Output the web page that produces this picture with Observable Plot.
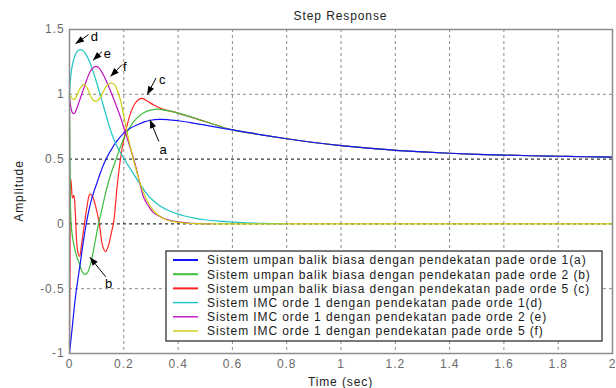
<!DOCTYPE html>
<html><head><meta charset="utf-8">
<script src="https://cdn.jsdelivr.net/npm/d3@7"></script>
<script src="https://cdn.jsdelivr.net/npm/@observablehq/plot@0.6"></script>
<style>
html,body{margin:0;padding:0;background:#fff;}
#chart svg{display:block;}
</style></head><body><div id="chart"></div>
<script>
// ---- data ----
const title = "Step Response";
const xLabel = "Time (sec)";
const yLabel = "Amplitude";

const legendLabels = [
  "Sistem umpan balik biasa dengan pendekatan pade orde 1(a)",
  "Sistem umpan balik biasa dengan pendekatan pade orde 2 (b)",
  "Sistem umpan balik biasa dengan pendekatan pade orde 5 (c)",
  "Sistem IMC orde 1 dengan pendekatan pade orde 1(d)",
  "Sistem IMC orde 1 dengan pendekatan pade orde 2 (e)",
  "Sistem IMC orde 1 dengan pendekatan pade orde 5 (f)"
];
const seriesColors = ["#1414ff", "#3cbf3c", "#ff2424", "#1fc4c4", "#c010c0", "#cccc10"];

// shared tail of a, b, c (the three curves overlap there)
const tTail = [0.6, 0.7, 0.8, 0.9, 1.0, 1.1, 1.2, 1.3, 1.4, 1.5, 1.6, 1.7, 1.8, 1.9, 2.0];
const vTail = [0.725, 0.69, 0.657, 0.628, 0.604, 0.584, 0.568, 0.555, 0.545, 0.537, 0.531, 0.526, 0.522, 0.518, 0.515];

// (a) blue
const tA = [0, 0.01, 0.02, 0.03, 0.04, 0.05, 0.06, 0.07, 0.08, 0.09, 0.1, 0.115, 0.13, 0.15, 0.175, 0.2, 0.225, 0.25, 0.275, 0.3, 0.33, 0.36, 0.4, 0.45, 0.5];
const vA = [-1, -0.8, -0.6, -0.44, -0.3, -0.15, -0.02, 0.09, 0.18, 0.25, 0.31, 0.4, 0.48, 0.56, 0.64, 0.7, 0.74, 0.765, 0.787, 0.8, 0.806, 0.805, 0.796, 0.78, 0.762];
// (b) green
const tB = [0, 0.002, 0.004, 0.008, 0.015, 0.025, 0.035, 0.045, 0.055, 0.065, 0.075, 0.085, 0.095, 0.105, 0.118, 0.132, 0.15, 0.165, 0.18, 0.2, 0.225, 0.25, 0.275, 0.3, 0.325, 0.35, 0.4, 0.5];
const vB = [1.0, 0.5, 0.1, -0.05, -0.15, -0.24, -0.3, -0.36, -0.39, -0.38, -0.33, -0.24, -0.13, -0.02, 0.1, 0.23, 0.37, 0.46, 0.55, 0.66, 0.755, 0.82, 0.86, 0.878, 0.885, 0.878, 0.855, 0.79];
// (c) red
const tC = [0, 0.002, 0.004, 0.007, 0.011, 0.016, 0.021, 0.026, 0.031, 0.037, 0.045, 0.055, 0.065, 0.075, 0.085, 0.097, 0.11, 0.122, 0.133, 0.143, 0.153, 0.163, 0.176, 0.189, 0.2, 0.212, 0.225, 0.24, 0.255, 0.268, 0.285, 0.31, 0.34, 0.4, 0.5];
const vC = [-0.96, -0.3, 0.35, 0.3, 0.2, 0.22, 0.1, -0.12, -0.22, -0.25, -0.15, 0.0, 0.14, 0.23, 0.21, 0.13, 0.0, -0.17, -0.215, -0.17, -0.08, 0.02, 0.3, 0.52, 0.65, 0.76, 0.855, 0.925, 0.96, 0.968, 0.95, 0.918, 0.888, 0.855, 0.79];
// (d) cyan
const tD = [0, 0.005, 0.01, 0.017, 0.025, 0.033, 0.042, 0.05, 0.06, 0.072, 0.085, 0.097, 0.11, 0.125, 0.14, 0.155, 0.17, 0.185, 0.2, 0.215, 0.23, 0.245, 0.262, 0.28, 0.298, 0.32, 0.34, 0.36, 0.39, 0.42, 0.46, 0.5, 0.55, 0.6, 0.65, 0.7, 0.75, 0.8];
const vD = [1.0, 1.15, 1.22, 1.28, 1.32, 1.34, 1.345, 1.335, 1.31, 1.26, 1.19, 1.11, 1.02, 0.91, 0.8, 0.7, 0.62, 0.56, 0.505, 0.455, 0.405, 0.355, 0.3, 0.245, 0.2, 0.16, 0.13, 0.107, 0.083, 0.063, 0.045, 0.032, 0.021, 0.013, 0.008, 0.005, 0.002, 0.001];
// (e) magenta
const tE = [0, 0.005, 0.01, 0.017, 0.025, 0.035, 0.045, 0.055, 0.065, 0.075, 0.085, 0.097, 0.11, 0.122, 0.134, 0.15, 0.171, 0.19, 0.2, 0.214, 0.238, 0.255, 0.274, 0.29, 0.31, 0.335, 0.36, 0.4, 0.434, 0.47, 0.52];
const vE = [0.97, 0.9, 0.86, 0.85, 0.88, 0.94, 1.0, 1.06, 1.12, 1.17, 1.2, 1.215, 1.2, 1.16, 1.11, 1.03, 0.92, 0.81, 0.74, 0.65, 0.49, 0.35, 0.2, 0.14, 0.085, 0.055, 0.033, 0.015, 0.007, 0.003, 0];
// (f) yellow
const tF = [0, 0.008, 0.017, 0.025, 0.035, 0.045, 0.054, 0.065, 0.075, 0.085, 0.097, 0.11, 0.122, 0.135, 0.145, 0.156, 0.167, 0.178, 0.189, 0.2, 0.21, 0.22, 0.235, 0.25, 0.262, 0.274, 0.286, 0.298, 0.315, 0.335, 0.36, 0.384, 0.41, 0.434, 0.47, 0.52, 0.6, 0.8, 1.0, 1.2, 1.4, 1.6, 1.8, 2.0];
const vF = [1.0, 0.97, 0.96, 0.98, 1.03, 1.065, 1.074, 1.05, 1.0, 0.96, 0.945, 0.965, 1.01, 1.06, 1.08, 1.087, 1.07, 1.02, 0.945, 0.83, 0.73, 0.63, 0.5, 0.385, 0.3, 0.235, 0.18, 0.135, 0.09, 0.055, 0.03, 0.018, 0.01, 0.005, 0.002, 0, 0, 0, 0, 0, 0, 0, 0, 0];

const xTicks = [0, 0.2, 0.4, 0.6, 0.8, 1, 1.2, 1.4, 1.6, 1.8, 2];
const yTicks = [-1, -0.5, 0, 0.5, 1, 1.5];
const yGridBlack = [0, 0.5];
const yGridGray = [-0.5, 1];

// annotation arrows (data units)
const annLabel = ["d", "e", "f", "c", "a", "b"];
const annFromT = [0.070, 0.120, 0.194, 0.319, 0.329, 0.133];
const annFromV = [1.46, 1.33, 1.229, 1.126, 0.636, -0.407];
const annToT = [0.022, 0.087, 0.151, 0.286, 0.296, 0.075];
const annToV = [1.39, 1.262, 1.138, 0.997, 0.804, -0.257];
const annTextT = [0.093, 0.141, 0.205, 0.343, 0.346, 0.146];
const annTextV = [1.478, 1.345, 1.24, 1.139, 0.6, -0.43];

// ---- build tables ----
const toRows = (ts, vs) => ts.map((t, i) => ({t, v: vs[i]}));
const rowsA = toRows(tA.concat(tTail), vA.concat(vTail));
const rowsB = toRows(tB.concat(tTail), vB.concat(vTail));
const rowsC = toRows(tC.concat(tTail), vC.concat(vTail));
const rowsD = toRows(tD, vD);
const rowsE = toRows(tE, vE);
const rowsF = toRows(tF, vF);
const ann = annLabel.map((k, i) => ({k, x1: annFromT[i], y1: annFromV[i], x2: annToT[i], y2: annToV[i], tx: annTextT[i], ty: annTextV[i]}));

const lineOpts = (c) => ({x: "t", y: "v", stroke: c, strokeWidth: 1.2, curve: "catmull-rom"});

const svg = Plot.plot({
  width: 616, height: 388,
  marginLeft: 69, marginRight: 4, marginTop: 29, marginBottom: 35,
  style: {fontFamily: "'Liberation Sans', Arial, sans-serif", fontSize: "12px", background: "#fff", color: "#6a6a6a", letterSpacing: "0.9px"},
  x: {domain: [0, 2], ticks: xTicks, tickFormat: d => String(d), tickSize: 0, tickPadding: 6, label: null},
  y: {domain: [-1, 1.5], ticks: yTicks, tickFormat: d => String(d), tickSize: 0, tickPadding: 5, label: null},
  marks: [
    Plot.ruleX(xTicks.slice(1, -1), {stroke: "#8a8a8a", strokeDasharray: "3,3"}),
    Plot.ruleY(yGridGray, {stroke: "#8a8a8a", strokeDasharray: "3,3"}),
    Plot.ruleY(yGridBlack, {stroke: "#000", strokeDasharray: "3,3"}),
    Plot.line(rowsC, lineOpts(seriesColors[2])),
    Plot.line(rowsB, lineOpts(seriesColors[1])),
    Plot.line(rowsA, lineOpts(seriesColors[0])),
    Plot.line(rowsD, lineOpts(seriesColors[3])),
    Plot.line(rowsE, lineOpts(seriesColors[4])),
    Plot.line(rowsF, lineOpts(seriesColors[5])),
    Plot.frame({stroke: "#8c8c8c", strokeWidth: 1.5}),
    Plot.link(ann, {x1: "x1", y1: "y1", x2: "x2", y2: "y2", stroke: "#000", strokeWidth: 1, markerEnd: "arrow"}),
    Plot.text(ann, {x: "tx", y: "ty", text: "k", fill: "#000", fontSize: 13, textAnchor: "middle", dy: 4})
  ]
});

const s = d3.select(svg);
// filled arrowheads
s.selectAll("marker")
  .attr("viewBox", "-9 -4 10 8").attr("markerWidth", 10).attr("markerHeight", 8)
  .attr("fill", "#000").attr("stroke", "none")
  .select("path").attr("d", "M-8.5,-3.2L0,0L-8.5,3.2Z");

// titles
s.append("text").attr("x", 340.5).attr("y", 20).attr("text-anchor", "middle").attr("fill", "#222").text(title);
s.append("text").attr("x", 340.5).attr("y", 385.5).attr("text-anchor", "middle").attr("fill", "#222").text(xLabel);
s.append("text").attr("transform", "translate(23,191) rotate(-90)").attr("text-anchor", "middle").attr("fill", "#222").text(yLabel);

// legend (layout in pixels)
const lg = s.append("g").attr("text-anchor", "start");
lg.append("rect").attr("x", 166).attr("y", 251).attr("width", 436).attr("height", 90)
  .attr("fill", "#fff").attr("stroke", "#222").attr("stroke-width", 1.2);
legendLabels.forEach((lab, i) => {
  const cy = 260 + i * 14.2;
  lg.append("line").attr("x1", 173).attr("x2", 198).attr("y1", cy).attr("y2", cy)
    .attr("stroke", seriesColors[i]).attr("stroke-width", i < 3 ? 2 : 1.4);
  lg.append("text").attr("x", 207).attr("y", cy + 4.3).attr("text-anchor", "start").attr("fill", "#1a1a1a").text(lab);
});

document.getElementById("chart").appendChild(svg);
</script></body></html>
